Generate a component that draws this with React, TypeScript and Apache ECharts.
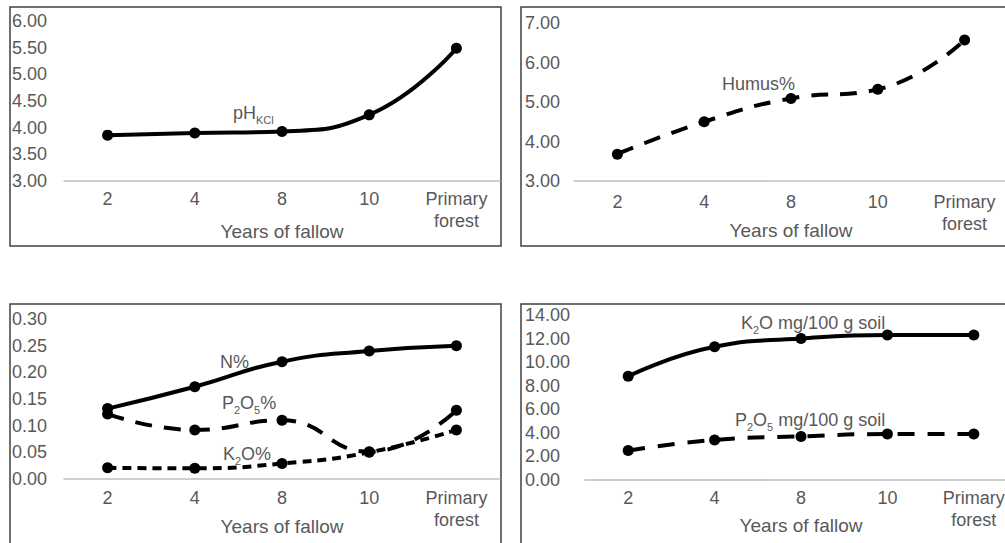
import React, { useEffect, useRef } from "react";
import * as echarts from "echarts";

const categories = ["2", "4", "8", "10", "Primary\nforest"];
const phKcl = [3.86, 3.9, 3.93, 4.24, 5.49];
const humus = [3.68, 4.5, 5.09, 5.32, 6.57];
const nPct = [0.132, 0.173, 0.22, 0.24, 0.25];
const p2o5Pct = [0.122, 0.092, 0.11, 0.051, 0.129];
const k2oPct = [0.021, 0.02, 0.029, 0.05, 0.092];
const k2oMg = [8.8, 11.3, 12.0, 12.3, 12.3];
const p2o5Mg = [2.5, 3.4, 3.7, 3.9, 3.9];

const xName = "Years of fallow";
const FONT = "'Liberation Sans', Arial, sans-serif";
const GREY = "#595959";

export default function App() {
  const ref = useRef<HTMLDivElement>(null);
  useEffect(() => {
    if (!ref.current) return;
    const chart = echarts.init(ref.current, null, { renderer: "svg" });

    const grids = [
      { left: 64, top: 21, width: 436, height: 160 },
      { left: 574, top: 23, width: 434, height: 158 },
      { left: 64, top: 319, width: 436, height: 160 },
      { left: 585, top: 315, width: 432, height: 165 },
    ].map((g) => ({ ...g, outerBoundsMode: "none", containLabel: false }));
    const labelMargins = [7, 10, 8, 7];
    const nameGaps = [39, 38, 36, 34];
    const yLabelMargins = [52, 49, 52, 60];
    const yRanges = [
      { min: 3, max: 6, interval: 0.5 },
      { min: 3, max: 7, interval: 1 },
      { min: 0, max: 0.3, interval: 0.05 },
      { min: 0, max: 14, interval: 2 },
    ];

    const xAxis = grids.map((_, i) => ({
      type: "category",
      gridIndex: i,
      data: categories,
      boundaryGap: true,
      axisLine: { lineStyle: { color: "#bfbfbf", width: 1.5 } },
      axisTick: { show: false },
      axisLabel: {
        color: GREY,
        fontFamily: FONT,
        fontSize: 18,
        lineHeight: 22,
        margin: labelMargins[i],
        interval: 0,
        hideOverlap: false,
      },
      name: xName,
      nameLocation: "middle",
      nameGap: nameGaps[i],
      nameMoveOverlap: false,
      nameTextStyle: { color: GREY, fontFamily: FONT, fontSize: 19, lineHeight: 22 },
    }));

    const yAxis = grids.map((_, i) => ({
      type: "value",
      gridIndex: i,
      min: yRanges[i].min,
      max: yRanges[i].max,
      interval: yRanges[i].interval,
      axisLine: { show: false },
      axisTick: { show: false },
      splitLine: { show: false },
      axisLabel: {
        color: GREY,
        fontFamily: FONT,
        fontSize: 18,
        align: "left",
        margin: yLabelMargins[i],
        formatter: (v: number) => v.toFixed(2),
      },
    }));

    const mk = (data: number[], idx: number, type: any, width: number) => ({
      type: "line",
      xAxisIndex: idx,
      yAxisIndex: idx,
      data,
      smooth: true,
      symbol: "circle",
      symbolSize: 11,
      itemStyle: { color: "#000" },
      lineStyle: { color: "#000", width, type },
      z: 3,
    });

    const series = [
      mk(phKcl, 0, "solid", 4),
      mk(humus, 1, [17, 12], 4),
      mk(nPct, 2, "solid", 4),
      mk(p2o5Pct, 2, [17, 12], 4),
      mk(k2oPct, 2, [9, 6], 4),
      mk(k2oMg, 3, "solid", 4),
      mk(p2o5Mg, 3, [17, 13], 4),
    ];

    const rich = {
      m: { fontSize: 18, fontFamily: FONT, color: GREY, lineHeight: 24 },
      s: { fontSize: 11, fontFamily: FONT, color: GREY, lineHeight: 10, verticalAlign: "bottom" },
    };
    const ann = (x: number, y: number, text: string) => ({
      type: "text",
      x,
      y,
      style: {
        text,
        rich,
        verticalAlign: "middle",
        align: "left",
        font: `18px ${FONT}`,
        fill: GREY,
      },
      z: 10,
    });
    const border = (x: number, y: number, w: number, h: number) => ({
      type: "rect",
      shape: { x, y, width: w, height: h },
      style: { fill: "none", stroke: "#404040", lineWidth: 1.5 },
      silent: true,
    });

    chart.setOption({
      animation: false,
      grid: grids,
      xAxis,
      yAxis,
      series,
      graphic: [
        border(10, 7, 491, 239),
        border(521, 7, 500, 239),
        border(10, 304, 491, 260),
        border(521, 304, 500, 260),
        ann(233, 113, "{m|pH}{s|KCl}"),
        ann(722, 84, "{m|Humus%}"),
        ann(220, 362, "{m|N%}"),
        ann(222, 403, "{m|P}{s|2}{m|O}{s|5}{m|%}"),
        ann(223, 454, "{m|K}{s|2}{m|O%}"),
        ann(741, 323, "{m|K}{s|2}{m|O mg/100 g soil}"),
        ann(735, 420, "{m|P}{s|2}{m|O}{s|5}{m| mg/100 g soil}"),
      ],
    });
    return () => chart.dispose();
  }, []);
  return (
    <div
      ref={ref}
      style={{ position: "fixed", left: 0, top: 0, width: 1005, height: 543, background: "#fff" }}
    />
  );
}
